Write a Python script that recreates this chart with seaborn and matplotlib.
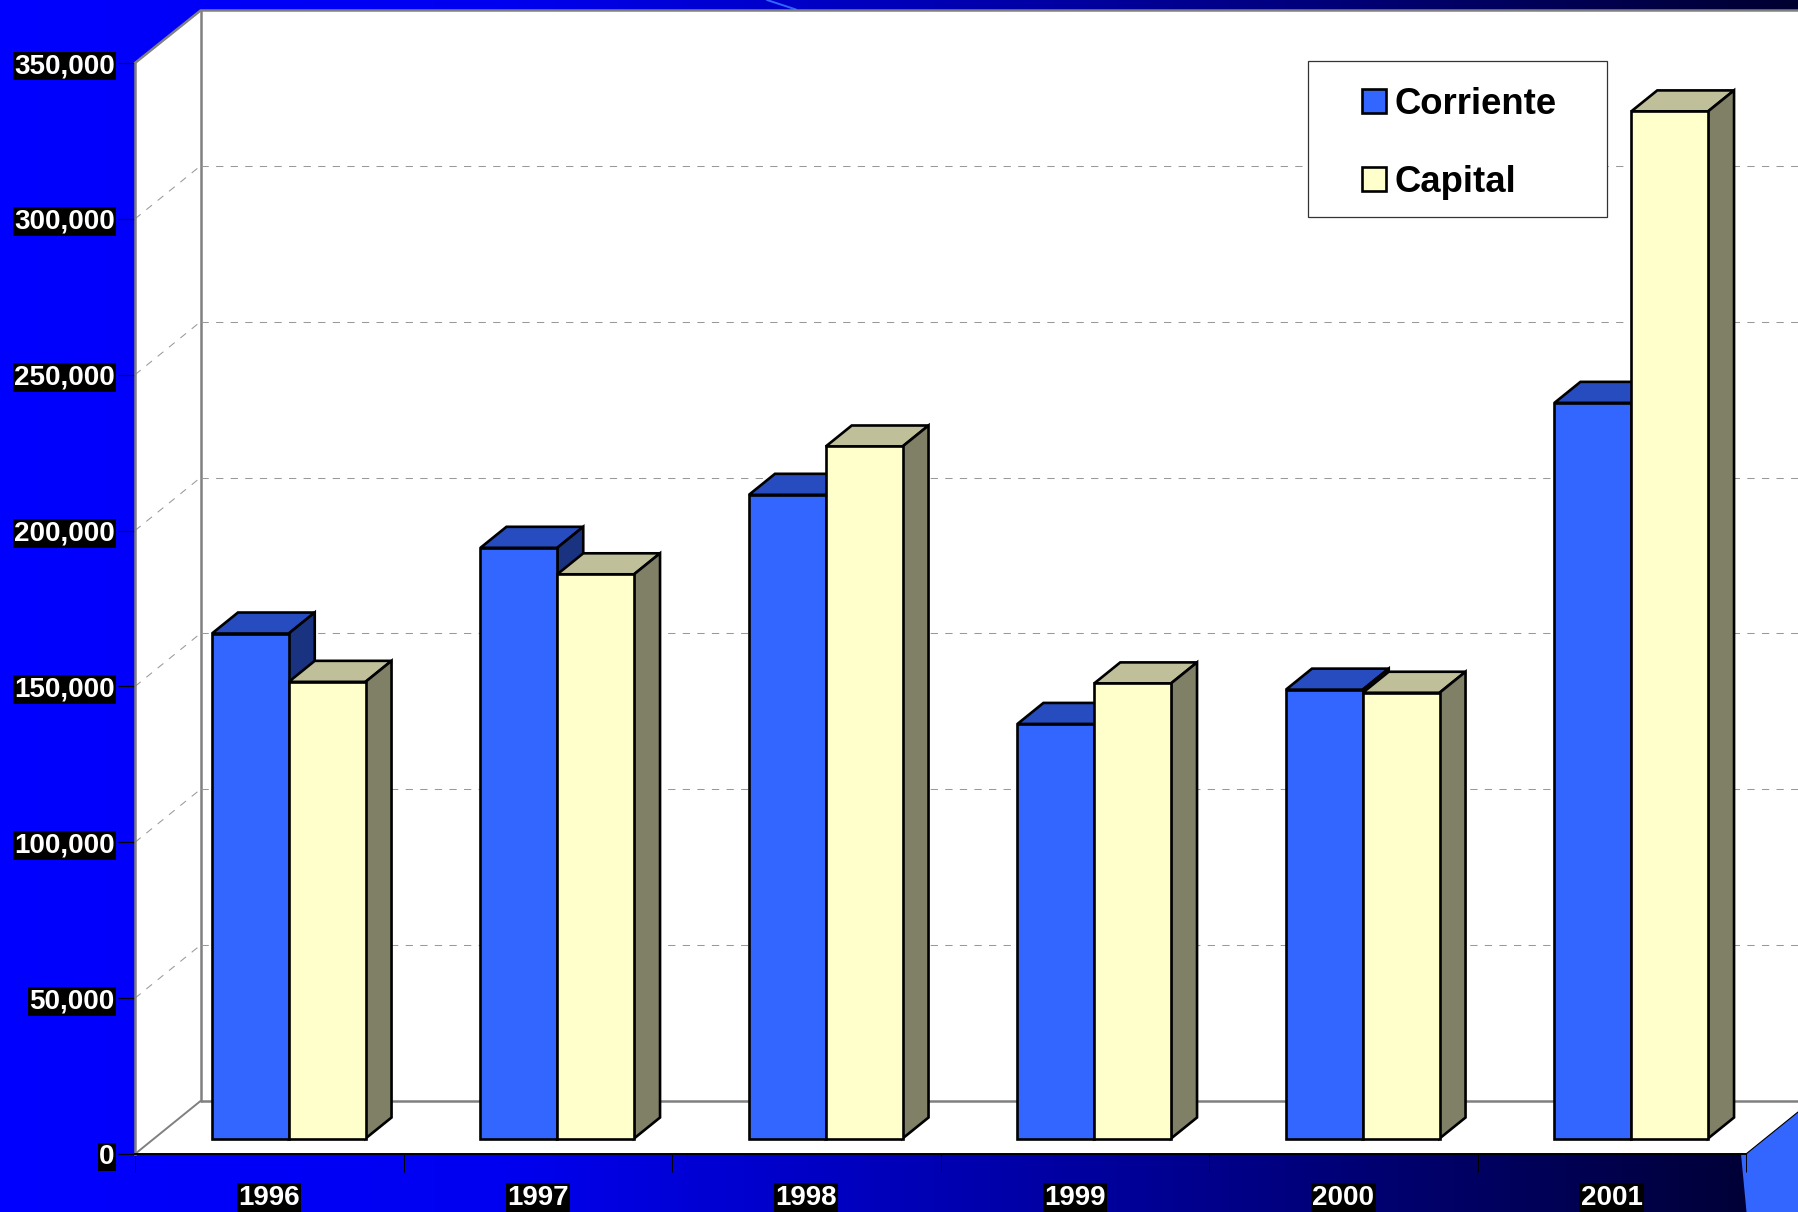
import matplotlib

matplotlib.use("Agg")
import matplotlib.pyplot as plt
import numpy as np
import pandas as pd
import seaborn as sns
from matplotlib.colors import LinearSegmentedColormap
from matplotlib.patches import Polygon, Rectangle

years = ["1996", "1997", "1998", "1999", "2000", "2001"]
corriente = [162000, 189500, 206500, 133000, 144000, 236000]
capital = [146500, 181000, 222000, 146000, 143000, 329500]
y_ticks = [0, 50000, 100000, 150000, 200000, 250000, 300000, 350000]

W, H = 1798, 1212
SCALE = 1091 / 350000  # px por unidad
DEPTH_X, DEPTH_Y = 26, 21
AZUL, CREMA = "#3366FF", "#FFFFCC"
GRIS = "#808080"

sns.set_theme(style="white")
plt.rcParams["font.family"] = ["Liberation Sans", "DejaVu Sans"]

df = pd.DataFrame(
    {
        "anio": years * 2,
        "valor": corriente + capital,
        "tipo": ["Corriente"] * 6 + ["Capital"] * 6,
    }
)


def caja(fig, x0, y_top, x1, y_bottom):
    return fig.add_axes(
        [x0 / W, 1 - y_bottom / H, (x1 - x0) / W, (y_bottom - y_top) / H]
    )


fig = plt.figure(figsize=(W / 100, H / 100), dpi=100)

# fondo y paredes en pixeles
fondo = caja(fig, 0, 0, W, H)
fondo.axis("off")
cmap = LinearSegmentedColormap.from_list(
    "fondo", [(0, "#0000FF"), (0.28, "#0000F0"), (0.6, "#0000A0"), (1, "#000030")]
)
fondo.imshow(
    np.linspace(0, 1, 256)[None, :],
    extent=(0, W, H, 0),
    cmap=cmap,
    aspect="auto",
    zorder=0,
)
fondo.set_xlim(0, W)
fondo.set_ylim(H, 0)
fondo.add_patch(
    Polygon(
        [(1741, 1154), (1746, 1154), (W, 1112), (W, H), (1746.5, H)],
        color=AZUL,
        lw=0,
        zorder=1,
    )
)
fondo.plot([767, 796], [0, 9.5], color=AZUL, lw=1.4, zorder=1)
fondo.add_patch(
    Polygon(
        [(135, 63), (200.5, 10.5), (W, 10.5), (W, 1112), (1746, 1154), (135, 1154)],
        facecolor="white",
        edgecolor="none",
        zorder=1,
    )
)
fondo.plot([1746, W], [1154, 1112], color="black", lw=0.8, zorder=2)
fondo.plot([135, 200.5, W], [63, 10.5, 10.5], color=GRIS, lw=1.8, zorder=2)
fondo.plot([200.5, 200.5], [10.5, 1101], color=GRIS, lw=1.8, zorder=2)
fondo.plot([135, 200.5], [1154, 1101], color=GRIS, lw=1.4, zorder=2)
fondo.plot([200.5, W], [1101, 1101], color=GRIS, lw=1.8, zorder=2)
for t in y_ticks[1:-1]:
    fondo.plot(
        [135, 200.5],
        [1154 - t * SCALE, 1101 - t * SCALE],
        color="#999999",
        lw=0.75,
        ls=(0, (7, 7)),
        zorder=2,
    )
    fondo.plot(
        [200.5, W],
        [1101 - t * SCALE, 1101 - t * SCALE],
        color="#999999",
        lw=0.75,
        ls=(0, (7, 7)),
        zorder=2,
    )
fondo.add_patch(
    Rectangle(
        (1308, 60.5), 299, 156.5, facecolor="white", edgecolor="#333333", lw=0.9,
        zorder=3,
    )
)

# plano frontal: ejes y etiquetas
frente = caja(fig, 135, 63, 135 + 6 * 268.5, 1154)
frente.patch.set_alpha(0)
frente.set_xlim(0, 6)
frente.set_ylim(0, 350000)
for lado in ["top", "right"]:
    frente.spines[lado].set_visible(False)
frente.spines["left"].set_color(GRIS)
frente.spines["left"].set_linewidth(1.8)
frente.spines["bottom"].set_color("black")
frente.spines["bottom"].set_linewidth(1.4)
frente.set_yticks(y_ticks)
frente.set_yticklabels([f"{t:,}" for t in y_ticks])
frente.set_xticks(np.arange(7))
frente.set_xticklabels([])
frente.set_xticks(np.arange(6) + 0.5, minor=True)
frente.set_xticklabels(years, minor=True)
frente.tick_params(
    axis="y", left=True, length=12, width=0.8, color="black", pad=2.5, labelsize=20
)
frente.tick_params(axis="x", which="major", bottom=True, length=13, width=0.7, color="black")
frente.tick_params(axis="x", which="minor", bottom=False, length=0, pad=22, labelsize=20)
for lab in frente.get_yticklabels() + frente.get_xticklabels(minor=True):
    lab.set_color("white")
    lab.set_fontweight("bold")
    lab.set_bbox({"facecolor": "black", "edgecolor": "none", "pad": 1})
for lab in frente.get_yticklabels():
    lab.set_verticalalignment("center_baseline")

# barras
ax = caja(fig, 154.5, 1138.5 - 350000 * SCALE, 154.5 + 6 * 268.5, 1138.5)
ax.patch.set_alpha(0)
sns.barplot(
    data=df,
    x="anio",
    y="valor",
    hue="tipo",
    palette=[AZUL, CREMA],
    saturation=1,
    width=0.572,
    gap=0,
    edgecolor="black",
    linewidth=1.9,
    ax=ax,
)
ax.set_xlim(-0.5, 5.5)
ax.set_ylim(0, 350000)
ax.axis("off")

dx = DEPTH_X / 268.5
dy = DEPTH_Y / SCALE
tapas = [("#264CBF", "#1A3380"), ("#BFBF99", "#808066")]
for i, cont in enumerate(ax.containers):
    for barra in cont:
        x0, x1, v = barra.get_x(), barra.get_x() + barra.get_width(), barra.get_height()
        z = 3 + i * 2
        barra.set_zorder(z + 1)
        barra.set_clip_on(False)
        ax.add_patch(
            Polygon(
                [(x0, v), (x0 + dx, v + dy), (x1 + dx, v + dy), (x1, v)],
                facecolor=tapas[i][0], edgecolor="black", lw=1.9, zorder=z,
                clip_on=False,
            )
        )
        ax.add_patch(
            Polygon(
                [(x1, 0), (x1 + dx, dy), (x1 + dx, v + dy), (x1, v)],
                facecolor=tapas[i][1], edgecolor="black", lw=1.9, zorder=z,
                clip_on=False,
            )
        )

handles, labels = ax.get_legend_handles_labels()
ax.legend(
    handles,
    labels,
    loc="upper left",
    bbox_to_anchor=(1362 / W, 1 - 87 / H),
    bbox_transform=fig.transFigure,
    frameon=False,
    borderpad=0,
    borderaxespad=0,
    handlelength=0.66,
    handleheight=0.66,
    handletextpad=0.24,
    labelspacing=1.17,
    labelcolor="black",
    prop={"weight": "bold", "size": 26.3},
)

plt.savefig("out.png", dpi=100)
plt.close(fig)
